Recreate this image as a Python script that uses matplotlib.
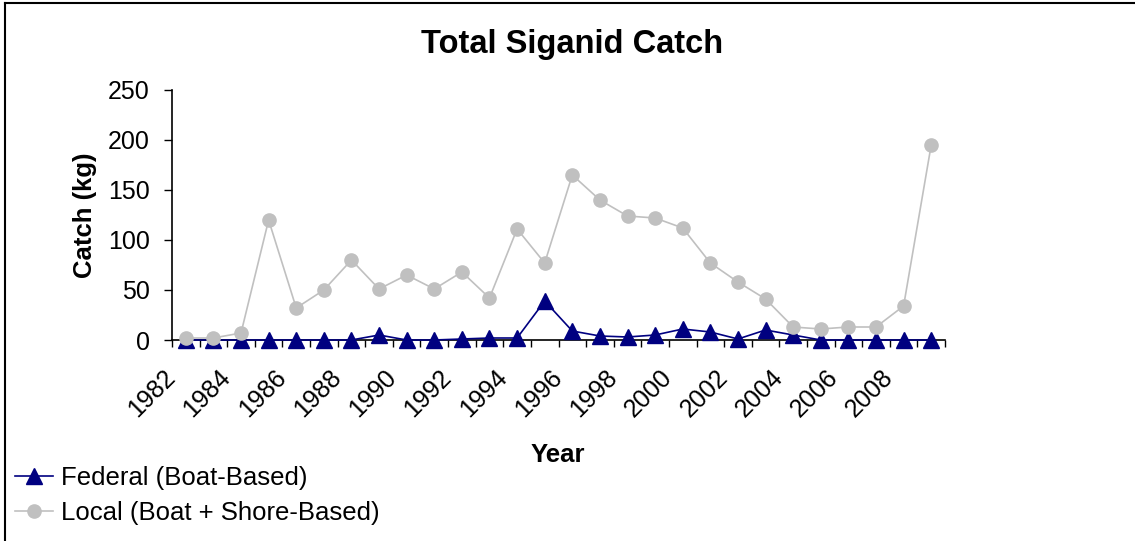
import numpy as np
import matplotlib.pyplot as plt
import matplotlib.transforms as mtransforms
from matplotlib.lines import Line2D

plt.rcParams['font.family'] = ['Liberation Sans', 'DejaVu Sans']

years = list(range(1982, 2010))
federal = [0, 0, 0, 0, 0, 0, 0, 5, 0, 0, 1, 2, 2, 39,
           9, 4, 3, 5, 11, 8, 1, 10, 5, 0, 0, 0, 0, 0]
local = [2, 2, 7, 120, 32, 50, 80, 51, 65, 51, 68, 42, 111, 77,
         165, 140, 124, 122, 112, 77, 58, 41, 13, 11, 13, 13, 34, 195]
label_years = [str(y) for y in range(1982, 2010, 2)]

fig = plt.figure(figsize=(11.35, 5.41), dpi=100)
ax = fig.add_axes([172 / 1135, 1 - 340 / 541, (945 - 172) / 1135, 250 / 541])

x = np.arange(len(years))
ax.plot(x, federal, color='#000080', lw=1.2, marker='^', ms=11,
        label='Federal (Boat-Based)', clip_on=False, zorder=3)
ax.plot(x, local, color='#C0C0C0', lw=1.2, marker='o', ms=9.5,
        label='Local (Boat + Shore-Based)', clip_on=False, zorder=4)

ax.set_xlim(-0.5, len(years) - 0.5)
ax.set_ylim(0, 250)
ax.set_yticks([0, 50, 100, 150, 200, 250])
ax.tick_params(axis='y', labelsize=18, length=6, width=1, pad=10, direction='out')

# category axis: ticks at boundaries, labels at centres
ax.set_xticks(np.arange(-0.5, len(years), 1))
ax.set_xticklabels([])
ax.tick_params(axis='x', which='major', length=5, width=1, direction='out')
ax.set_xticks(x[::2], minor=True)
ax.set_xticklabels(label_years, minor=True, rotation=45, ha='right', va='center',
                   rotation_mode='anchor', fontsize=18)
ax.tick_params(axis='x', which='minor', length=0, pad=24)
shift = mtransforms.ScaledTranslation(-14 / 100, 0, fig.dpi_scale_trans)
for lab in ax.get_xticklabels(minor=True):
    lab.set_transform(lab.get_transform() + shift)

for s in ['top', 'right']:
    ax.spines[s].set_visible(False)
for s in ['left', 'bottom']:
    ax.spines[s].set_linewidth(1.2)

ax.set_ylabel('Catch (kg)', fontsize=18.5, fontweight='bold', labelpad=8)
fig.text(558 / 1135, 1 - 455 / 541, 'Year', fontsize=18.5, fontweight='bold',
         ha='center', va='center')
fig.text(572 / 1135, 1 - 44 / 541, 'Total Siganid Catch', fontsize=23.5,
         fontweight='bold', ha='center', va='center')

fig.legend(loc='upper left', bbox_to_anchor=(15 / 1135, 1 - 466 / 541), frameon=False,
           fontsize=18.5, handlelength=1.48, handletextpad=0.3, labelspacing=0.42,
           borderaxespad=0, borderpad=0)

# outer chart frame (right and bottom edges cut off)
fig.add_artist(Line2D([5 / 1135, 5 / 1135], [0, 1 - 2.5 / 541], color='black', lw=1.5))
fig.add_artist(Line2D([5 / 1135, 1], [1 - 2.5 / 541, 1 - 2.5 / 541], color='black', lw=1.5))

fig.savefig('out.png', dpi=100)
